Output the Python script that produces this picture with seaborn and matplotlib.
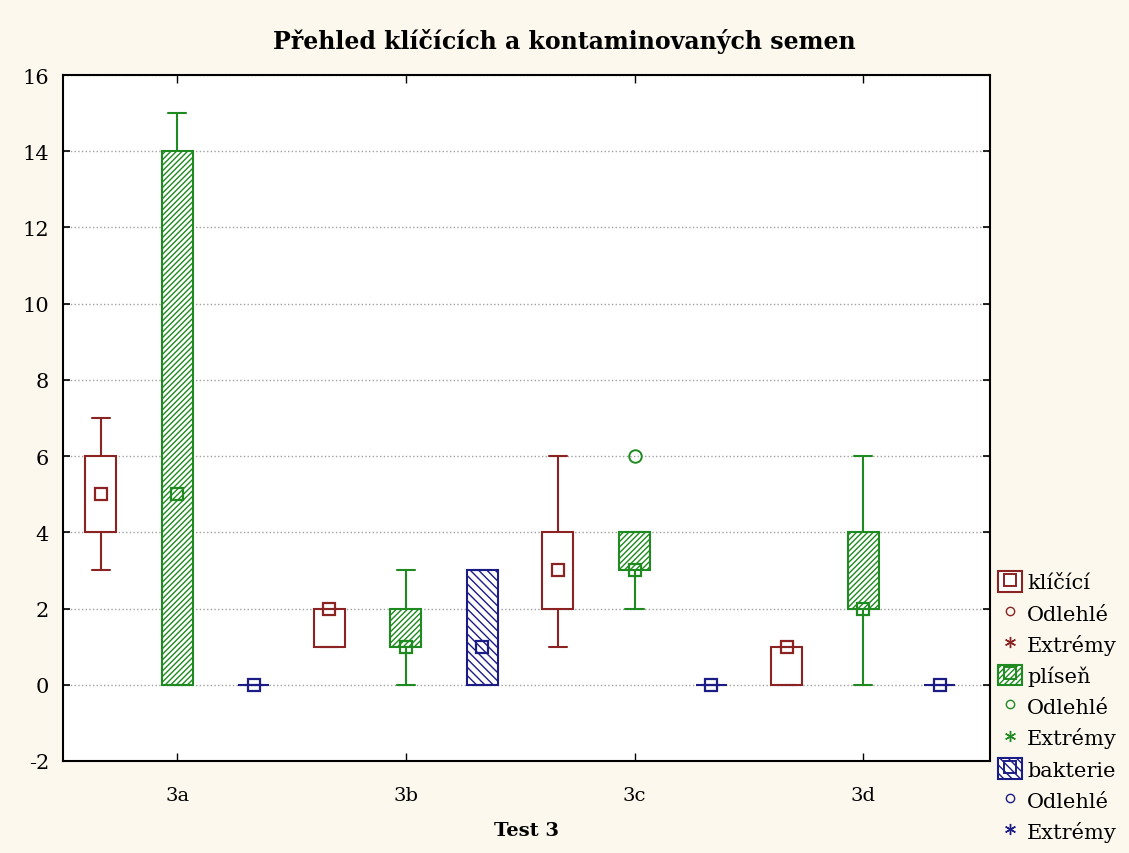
import matplotlib
matplotlib.use("Agg")
import matplotlib.pyplot as plt
import seaborn as sns
from matplotlib.patches import Patch
from matplotlib.lines import Line2D
from matplotlib.legend_handler import HandlerTuple

# kategorie a skupiny
tests = ['3a', '3b', '3c', '3d']
groups = ['klíčící', 'plíseň', 'bakterie']

# klíčící: min, Q1, medián, Q3, max (bez odlehlých) pro 3a..3d
kl_whislo = [3, 1, 1, 0]
kl_q1 = [4, 1, 2, 0]
kl_med = [5, 2, 3, 1]
kl_q3 = [6, 2, 4, 1]
kl_whishi = [7, 2, 6, 1]
kl_fliers = [[], [], [], []]

# plíseň
pl_whislo = [0, 0, 2, 0]
pl_q1 = [0, 1, 3, 2]
pl_med = [5, 1, 3, 2]
pl_q3 = [14, 2, 4, 4]
pl_whishi = [15, 3, 4, 6]
pl_fliers = [[], [], [6], []]

# bakterie
ba_whislo = [0, 0, 0, 0]
ba_q1 = [0, 0, 0, 0]
ba_med = [0, 1, 0, 0]
ba_q3 = [0, 3, 0, 0]
ba_whishi = [0, 3, 0, 0]
ba_fliers = [[], [], [], []]

summary = {
    'klíčící': (kl_whislo, kl_q1, kl_med, kl_q3, kl_whishi, kl_fliers),
    'plíseň': (pl_whislo, pl_q1, pl_med, pl_q3, pl_whishi, pl_fliers),
    'bakterie': (ba_whislo, ba_q1, ba_med, ba_q3, ba_whishi, ba_fliers),
}

# ================= vzhled =================
sns.set_theme(style="white")
plt.rcParams['font.family'] = ['DejaVu Serif']
plt.rcParams['hatch.linewidth'] = 1.0
plt.rcParams['axes.unicode_minus'] = False
plt.rcParams['text.color'] = 'black'
plt.rcParams['axes.labelcolor'] = 'black'

colors = dict(zip(groups, ['#8b2323', '#1f8a1f', '#1c1c86']))
hatches = {'klíčící': None, 'plíseň': '//////', 'bakterie': '\\\\\\\\'}
offsets = {'klíčící': -0.335, 'plíseň': 0.0, 'bakterie': 0.335}
box_w = 0.136
cap_w = 0.08
bg = '#fcf8ee'

fig = plt.figure(figsize=(11.29, 8.54), dpi=100, facecolor=bg)
ax = fig.add_axes([63 / 1129, 1 - 762 / 854, (990 - 63) / 1129, (762 - 76) / 854])
ax.set_facecolor('white')

for g in groups:
    lo, q1, med, q3, hi, fl = summary[g]
    col = colors[g]
    stats = []
    for i in range(len(tests)):
        stats.append({'whislo': lo[i], 'q1': q1[i], 'med': med[i], 'q3': q3[i],
                      'whishi': hi[i], 'fliers': fl[i]})
    pos = [i + offsets[g] for i in range(len(tests))]
    ax.bxp(stats, positions=pos, widths=box_w, capwidths=cap_w,
           patch_artist=True, manage_ticks=False,
           boxprops=dict(facecolor='white', edgecolor=col, linewidth=1.5,
                         hatch=hatches[g]),
           whiskerprops=dict(color=col, linewidth=1.5),
           capprops=dict(color=col, linewidth=1.5),
           medianprops=dict(linewidth=0),
           flierprops=dict(marker='o', markerfacecolor='none',
                           markeredgecolor=col, markersize=9,
                           markeredgewidth=1.4))
    # medián jako prázdný čtverec
    ax.plot(pos, med, ls='none', marker='s', markersize=9,
            markerfacecolor='none', markeredgecolor=col,
            markeredgewidth=1.6, zorder=5)

ax.set_xlim(-0.5, 3.555)
ax.set_ylim(-2, 16)
ax.set_yticks(range(-2, 17, 2))
ax.set_xticks(range(len(tests)))
ax.set_xticklabels(tests)
ax.yaxis.grid(True, linestyle=':', color='#a0a0a0', linewidth=1.0)
ax.set_axisbelow(True)
for s in ax.spines.values():
    s.set_color('black')
    s.set_linewidth(1.5)
ax.tick_params(axis='y', direction='in', left=True, right=True, length=5,
               width=1.2, labelsize=15, colors='black', pad=10)
ax.tick_params(axis='x', direction='in', bottom=True, top=True, length=6,
               width=1.0, labelsize=14, colors='black', pad=18)
ax.set_xlabel('Test 3', fontsize=14, fontweight='bold', labelpad=12)
fig.suptitle('Přehled klíčících a kontaminovaných semen', fontsize=17,
             fontweight='bold', x=0.5, y=1 - 42 / 854, va='center')

# legenda
handles, labels = [], []
for g in groups:
    col = colors[g]
    box = Patch(facecolor='white', edgecolor=col, hatch=hatches[g], linewidth=1.5)
    mark = Line2D([], [], ls='none', marker='s', markersize=8,
                  markerfacecolor='none', markeredgecolor=col, markeredgewidth=1.4)
    handles.append((box, mark))
    labels.append(g)
    handles.append(Line2D([], [], ls='none', marker='o', markersize=6,
                          markerfacecolor='none', markeredgecolor=col))
    labels.append('Odlehlé')
    handles.append(Line2D([], [], ls='none', marker=(6, 2, 0), markersize=8,
                          markeredgewidth=1.0, markeredgecolor=col, color=col))
    labels.append('Extrémy')

fig.legend(handles, labels, loc='upper left', bbox_to_anchor=(998 / 1129, 1 - 572 / 854),
           frameon=False, fontsize=15, handlelength=1.15, handleheight=1.15,
           handletextpad=0.25, labelspacing=0.47, borderaxespad=0, borderpad=0,
           handler_map={tuple: HandlerTuple(ndivide=1)})

fig.savefig('out.png', dpi=100, facecolor=bg)
